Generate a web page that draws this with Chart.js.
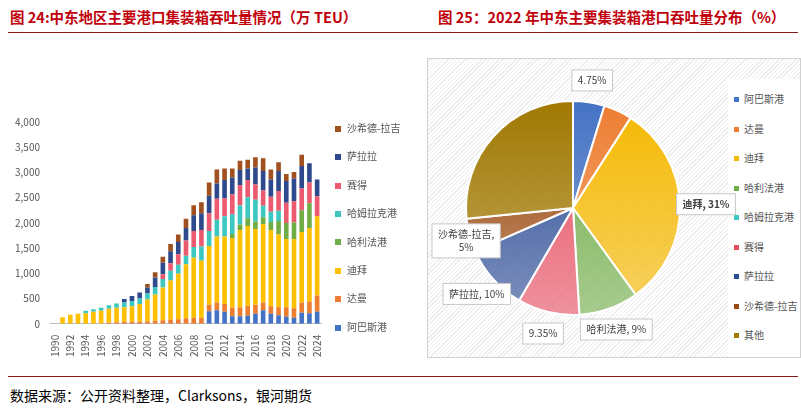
<!DOCTYPE html>
<html><head><meta charset="utf-8">
<script src="https://cdn.jsdelivr.net/npm/chart.js@4"></script>
<style>
body{margin:0;width:801px;height:408px;background:#fff;font-family:"Noto Sans CJK SC",sans-serif;position:relative;overflow:hidden}
.t{position:absolute;top:6px;color:#c0000b;font-weight:bold;font-size:14.5px}
.rule{position:absolute;left:8px;width:790px;height:1px;background:#8b1a1a}
#box{position:absolute;left:427px;top:58px;width:372px;height:298px;border:1px solid #d0d0d0;
 background:repeating-linear-gradient(135deg,#fff 0 2px,#ececec 2px 3px)}
.leg{position:absolute;font-size:10px;color:#555}
.leg div{white-space:nowrap}
.leg span{display:inline-block;vertical-align:middle}
#leg{left:300px;top:20px;width:72px;height:278px;background:#fff;padding-top:5px;box-sizing:border-box}
#leg div{height:29.5px;line-height:29.5px}
#leg span{width:5px;height:5px;margin:0 5px 1px 6px}
#leg1{left:335px;top:114px}
#leg1 div{height:28.4px;line-height:28.4px}
#leg1 span{width:6px;height:6px;margin:0 6px 1px 0}
#src{position:absolute;left:10px;top:385px;font-size:14px;color:#000}
</style></head><body>
<div class="t" style="left:10px">图 24:中东地区主要港口集装箱吞吐量情况（万 TEU）</div>
<div class="t" style="left:438px">图 25：2022 年中东主要集装箱港口吞吐量分布（%）</div>
<div class="rule" style="top:32px"></div>
<div style="position:absolute;left:0;top:90px;width:425px;height:270px"><canvas id="bar"></canvas></div>
<div class="leg" id="leg1"></div>
<div id="box"><div class="leg" id="leg"></div><div style="position:absolute;left:0;top:0;width:372px;height:298px"><canvas id="pie"></canvas></div></div>
<div class="rule" style="top:376px"></div>
<div id="src">数据来源：公开资料整理，Clarksons，银河期货</div>
<script>
// ========== DATA ==========
const years = [];
for (let y = 1990; y <= 2024; y++) years.push(String(y));
const ports = ["阿巴斯港", "达曼", "迪拜", "哈利法港", "哈姆拉克港", "赛得", "萨拉拉", "沙希德-拉吉"];
const colors = ["#4472c4", "#ed7d31", "#ffc000", "#70ad47", "#3cc8c0", "#eb5a6e", "#2f4a8c", "#a0501e"];
const abbas  = [0,0,0,0,0,0,0,0,0,0,0,0,0,0,0,0,0,0,0,0,250,270,240,150,150,160,200,270,200,170,140,120,220,210,240];
const dammam = [0,0,0,0,0,0,0,20,30,40,40,40,50,60,70,80,90,110,120,120,130,150,150,170,180,200,180,150,150,160,190,190,200,230,320];
const dubai  = [0,130,180,200,210,240,260,280,290,290,310,350,430,520,650,780,900,1070,1190,1130,1160,1310,1340,1380,1530,1580,1500,1560,1510,1440,1350,1370,1400,1460,1570];
const khalifa= [0,0,0,0,0,0,0,0,0,0,0,0,0,0,0,0,0,0,0,0,0,0,0,80,110,150,150,130,160,270,320,330,430,490,0];
const hamriyah=[0,0,0,0,50,50,60,70,80,90,100,110,120,150,170,190,180,170,210,280,300,330,400,390,380,420,430,230,200,200,0,0,0,0,0];
const said   = [0,0,0,0,0,0,0,0,0,0,0,0,0,0,90,150,210,300,320,330,350,420,360,400,400,340,300,300,300,390,400,420,430,410,400];
const salalah= [0,0,0,0,0,0,0,0,0,70,100,120,120,190,230,240,240,250,310,330,350,300,360,330,300,230,340,390,340,400,430,450,450,380,330];
const shahid = [0,0,0,0,0,0,0,0,0,0,0,0,70,100,120,140,150,180,200,220,260,280,230,180,180,170,200,250,200,170,140,130,220,0,0];
const series = [abbas, dammam, dubai, khalifa, hamriyah, said, salalah, shahid];

const pieLabels = ["阿巴斯港", "达曼", "迪拜", "哈利法港", "哈姆拉克港", "赛得", "萨拉拉", "沙希德-拉吉", "其他"];
const pieValues = [4.75, 4.3, 31, 9, 0, 9.35, 10, 5, 26.6];
const pieTexts  = ["4.75%", "", "迪拜, 31%", "哈利法港, 9%", "", "9.35%", "萨拉拉, 10%", "沙希德-拉吉,\n5%", ""];
const pieColors = ["#4472c4", "#ed7d31", "#f5b800", "#70ad47", "#3cc8c0", "#e84d60", "#2c4c96", "#9c4a10", "#a07800"];

const font = {family: "'Noto Sans CJK SC', sans-serif", size: 10};

// ========== BAR CHART ==========
new Chart(document.getElementById("bar"), {
    type: "bar",
    data: {
        labels: years,
        datasets: ports.map((p, i) => ({label: p, data: series[i], backgroundColor: colors[i], barPercentage: 0.6, categoryPercentage: 1}))
    },
    options: {
        responsive: true, maintainAspectRatio: false, animation: false,
        layout: {padding: {left: 12, top: 32, right: 104}},
        scales: {
            x: {stacked: true, grid: {display: false}, border: {color: "#bbb"},
                ticks: {color: "#555", font: font, maxRotation: 90, minRotation: 90, autoSkip: false,
                    callback: (v, i) => i % 2 === 0 ? years[i] : ""}},
            y: {stacked: true, min: 0, max: 4000, grid: {display: false}, border: {display: false},
                ticks: {stepSize: 500, color: "#555", font: font, callback: v => v.toLocaleString("en-US")}}
        },
        plugins: {tooltip: {enabled: false}, legend: {display: false}}
    }
});
document.getElementById("leg1").innerHTML = ports.map((p, i) =>
    `<div><span style="background:${colors[i]}"></span>${p}</div>`).reverse().join("");

// ========== PIE CHART ==========
document.getElementById("leg").innerHTML = pieLabels.map((l, i) =>
    `<div><span style="background:${pieColors[i]}"></span>${l}</div>`).join("");

function grad(ctx, c) {
    const a = ctx.chart.chartArea;
    if (!a) return c;
    const g = ctx.chart.ctx.createLinearGradient(0, a.top, 0, a.bottom);
    g.addColorStop(0, c);
    g.addColorStop(1, c + "99");
    return g;
}
const calloutPlugin = {
    id: "callout",
    afterDatasetsDraw(chart) {
        const c = chart.ctx;
        const meta = chart.getDatasetMeta(0);
        c.save();
        meta.data.forEach((arc, i) => {
            const txt = pieTexts[i];
            if (!txt) return;
            const mid = (arc.startAngle + arc.endAngle) / 2;
            const r = arc.outerRadius + (i === 2 ? 26 : 22);
            let x = arc.x + Math.cos(mid) * r, y = arc.y + Math.sin(mid) * r;
            c.font = (i === 2 ? "bold " : "") + "10px 'Noto Sans CJK SC', sans-serif";
            const lines = txt.split("\n");
            const w = Math.max(...lines.map(l => c.measureText(l).width)) + 12;
            const h = lines.length * 13 + 8;
            x = Math.max(x, w / 2 + 4);
            c.fillStyle = "#fff"; c.strokeStyle = "#c8c8c8";
            c.fillRect(x - w / 2, y - h / 2, w, h);
            c.strokeRect(x - w / 2, y - h / 2, w, h);
            c.fillStyle = "#404040"; c.textAlign = "center"; c.textBaseline = "middle";
            lines.forEach((l, k) => c.fillText(l, x, y - (lines.length - 1) * 6.5 + k * 13));
        });
        c.restore();
    }
};
new Chart(document.getElementById("pie"), {
    type: "pie",
    data: {
        labels: pieLabels,
        datasets: [{data: pieValues, borderColor: "#fff", borderWidth: 2,
            backgroundColor: ctx => grad(ctx, pieColors[ctx.dataIndex])}]
    },
    options: {
        responsive: true, maintainAspectRatio: false, animation: false,
        layout: {padding: {top: 41, bottom: 41, left: 37, right: 119}},
        plugins: {tooltip: {enabled: false}, legend: {display: false}}
    },
    plugins: [calloutPlugin]
});
</script>
</body></html>
